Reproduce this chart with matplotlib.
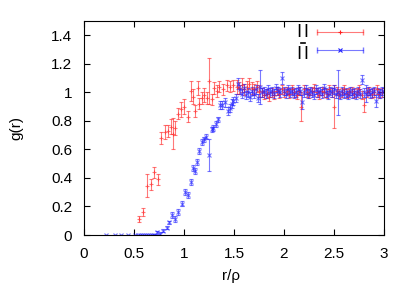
"""Pair correlation g(r) for two orientations, with error bars"""
import numpy as np
import matplotlib.pyplot as plt

"""Data read off the reference"""
red_r = [0.55, 0.59, 0.63, 0.67, 0.70, 0.74, 0.77, 0.81, 0.84, 0.87, 0.89, 0.91, 0.94, 0.97,
         1.00, 1.04, 1.07, 1.09, 1.11, 1.14, 1.15, 1.18, 1.20, 1.23, 1.25, 1.28, 1.30, 1.33,
         1.35, 1.39, 1.43, 1.46, 1.49, 1.53,
         1.55, 1.58, 1.60, 1.63, 1.65, 1.68, 1.70, 1.73, 1.75, 1.78, 1.80, 1.83, 1.85, 1.88,
         1.90, 1.93, 1.95, 1.98, 2.00, 2.03, 2.05, 2.08, 2.10, 2.13, 2.15, 2.17, 2.20, 2.23,
         2.25, 2.28, 2.30, 2.33, 2.35, 2.38, 2.40, 2.43, 2.45, 2.48, 2.50, 2.53, 2.55, 2.58,
         2.60, 2.63, 2.65, 2.68, 2.70, 2.73, 2.75, 2.78, 2.80, 2.83, 2.85, 2.88, 2.90, 2.93,
         2.95, 2.98]
red_g = [0.11, 0.16, 0.345, 0.355, 0.44, 0.39, 0.68, 0.72, 0.73, 0.76, 0.71, 0.75, 0.85, 0.88,
         0.90, 0.83, 1.01, 0.97, 0.87, 1.03, 0.92, 0.96, 0.98, 0.96, 1.08, 0.95, 1.03, 1.01,
         1.04, 1.02, 1.05, 1.04, 1.05, 1.04,
         1.03, 1.05, 1.02, 1.04, 1.06, 1.03, 1.02, 1.04, 1.01, 1.00, 0.98, 0.99, 0.97, 1.00,
         0.98, 1.01, 0.99, 1.02, 1.00, 1.01, 0.99, 1.02, 1.00, 0.98, 1.01, 0.90, 1.02, 1.00,
         0.99, 1.01, 1.03, 1.00, 0.98, 1.01, 1.00, 0.99, 1.02, 1.00, 0.90, 1.01, 0.99, 1.00,
         1.02, 0.99, 1.00, 1.01, 0.99, 1.00, 1.02, 0.98, 0.91, 1.00, 1.01, 0.99, 1.00, 1.02,
         0.99, 1.00]
red_err = [0.02, 0.03, 0.08, 0.04, 0.04, 0.04, 0.04, 0.05, 0.04, 0.05, 0.11, 0.05, 0.04, 0.05,
           0.05, 0.04, 0.07, 0.05, 0.04, 0.05, 0.04, 0.04, 0.05, 0.04, 0.16, 0.04, 0.04, 0.04,
           0.04, 0.04, 0.04, 0.04, 0.04, 0.05,
           0.04, 0.05, 0.04, 0.04, 0.04, 0.04, 0.04, 0.04, 0.04, 0.03, 0.03, 0.03, 0.03, 0.03,
           0.03, 0.03, 0.03, 0.03, 0.03, 0.03, 0.03, 0.03, 0.03, 0.03, 0.03, 0.10, 0.03, 0.03,
           0.03, 0.03, 0.03, 0.03, 0.03, 0.03, 0.03, 0.03, 0.03, 0.03, 0.15, 0.03, 0.03, 0.03,
           0.03, 0.03, 0.03, 0.03, 0.03, 0.03, 0.03, 0.03, 0.05, 0.03, 0.03, 0.03, 0.03, 0.03,
           0.03, 0.03]

blue_r = [0.22, 0.31, 0.37, 0.44, 0.51, 0.54, 0.56, 0.58, 0.60, 0.62, 0.64, 0.66, 0.68, 0.70,
          0.73, 0.76, 0.79, 0.83, 0.85, 0.88, 0.91, 0.94, 0.98, 1.01, 1.04, 1.07, 1.09, 1.11,
          1.13, 1.15, 1.18, 1.20, 1.22, 1.25, 1.28, 1.29, 1.32, 1.34, 1.36, 1.38, 1.41, 1.44,
          1.46, 1.48, 1.49,
          1.52, 1.54, 1.56, 1.58, 1.60, 1.62, 1.64, 1.66, 1.68, 1.70, 1.72, 1.74, 1.76, 1.78,
          1.80, 1.82, 1.84, 1.86, 1.88, 1.90, 1.92, 1.94, 1.96, 1.98, 2.00, 2.02, 2.04, 2.06,
          2.08, 2.10, 2.12, 2.14, 2.16, 2.18, 2.20, 2.22, 2.24, 2.26, 2.28, 2.30, 2.32, 2.34,
          2.36, 2.38, 2.40, 2.42, 2.44, 2.46, 2.48, 2.50, 2.52, 2.54, 2.56, 2.58, 2.60, 2.62,
          2.64, 2.66, 2.68, 2.70, 2.72, 2.74, 2.76, 2.78, 2.80, 2.82, 2.84, 2.86, 2.88, 2.90,
          2.92, 2.94, 2.96, 2.98, 3.00]
blue_g = [0.0, 0.0, 0.0, 0.0, 0.0, 0.0, 0.0, 0.0, 0.0, 0.0, 0.0, 0.0, 0.0, 0.0,
          0.02, 0.01, 0.03, 0.05, 0.09, 0.14, 0.11, 0.16, 0.22, 0.30, 0.28, 0.37, 0.47, 0.45,
          0.51, 0.59, 0.65, 0.67, 0.69, 0.56, 0.74, 0.75, 0.78, 0.81, 0.91, 0.91, 0.93, 0.87,
          0.89, 0.92, 0.94,
          0.96, 1.06, 1.02, 0.99, 1.03, 0.98, 1.00, 0.97, 1.01, 0.99, 1.02, 0.96, 1.04, 1.00,
          1.01, 0.99, 1.02, 1.00, 1.01, 0.99, 1.03, 1.01, 1.00, 1.10, 1.01, 0.99, 1.02, 1.00,
          1.01, 0.99, 1.00, 1.02, 1.01, 0.93, 1.00, 1.02, 0.99, 1.01, 1.00, 0.98, 1.02, 1.00,
          1.01, 0.99, 1.03, 1.00, 0.98, 1.01, 1.00, 1.02, 0.99, 1.00, 0.98, 1.01, 0.99, 1.00,
          0.98, 1.01, 0.99, 1.00, 0.98, 1.01, 0.99, 1.09, 1.00, 0.99, 1.01, 0.99, 1.00, 1.01,
          0.94, 1.00, 0.99, 1.01, 1.00]
blue_err = [0.003, 0.003, 0.003, 0.003, 0.003, 0.003, 0.003, 0.003, 0.003, 0.003, 0.003, 0.003,
            0.003, 0.005,
            0.01, 0.01, 0.01, 0.01, 0.01, 0.02, 0.02, 0.02, 0.02, 0.02, 0.02, 0.02, 0.02, 0.02,
            0.02, 0.02, 0.02, 0.02, 0.02, 0.11, 0.02, 0.02, 0.02, 0.02, 0.03, 0.03, 0.03, 0.03,
            0.03, 0.03, 0.03,
            0.03, 0.04, 0.03, 0.03, 0.03, 0.03, 0.03, 0.03, 0.03, 0.03, 0.03, 0.03, 0.12, 0.03,
            0.03, 0.03, 0.03, 0.03, 0.03, 0.03, 0.03, 0.03, 0.03, 0.04, 0.03, 0.03, 0.03, 0.03,
            0.03, 0.03, 0.03, 0.03, 0.03, 0.05, 0.03, 0.03, 0.03, 0.03, 0.03, 0.03, 0.03, 0.03,
            0.03, 0.03, 0.03, 0.03, 0.03, 0.03, 0.03, 0.03, 0.03, 0.16, 0.03, 0.03, 0.03, 0.03,
            0.03, 0.03, 0.03, 0.03, 0.03, 0.03, 0.03, 0.03, 0.03, 0.06, 0.03, 0.03, 0.03, 0.03,
            0.04, 0.03, 0.03, 0.03, 0.03]

x_ticks = [0, 0.5, 1, 1.5, 2, 2.5, 3]
x_tick_labels = ["0", "0.5", "1", "1.5", "2", "2.5", "3"]
y_ticks = [0, 0.2, 0.4, 0.6, 0.8, 1.0, 1.2, 1.4]
y_tick_labels = ["0", "0.2", "0.4", "0.6", "0.8", "1", "1.2", "1.4"]

plt.rcParams['font.family'] = ['Liberation Sans', 'DejaVu Sans']

fig = plt.figure(figsize=(4.15, 2.91), dpi=100)
ax = fig.add_axes([0.2024, 0.1924, 0.7229, 0.7354])

ax.errorbar(red_r, red_g, yerr=red_err, fmt='+', color='#ff2020', ms=3, mew=0.8,
            elinewidth=0.8, capsize=1.5, alpha=0.6)
ax.errorbar(blue_r, blue_g, yerr=blue_err, fmt='x', color='#2020ff', ms=2.5, mew=0.8,
            elinewidth=0.8, capsize=1.5, alpha=0.6)

"""gnuplot-like key drawn by hand"""
for yk, col, mk in [(0.948, '#ff2020', '+'), (0.864, '#2020ff', 'x')]:
    ax.plot([0.777, 0.93], [yk, yk], color=col, lw=0.8, alpha=0.6, transform=ax.transAxes)
    ax.plot([0.777, 0.93], [yk, yk], ls='none', marker='|', ms=4, color=col, alpha=0.6,
            transform=ax.transAxes)
    ax.plot([0.853], [yk], ls='none', marker=mk, ms=3, mew=0.8, color=col,
            transform=ax.transAxes)
ax.text(0.730, 0.949, "I\u200aI", transform=ax.transAxes, ha='center', va='center',
        fontsize=12.5, family='DejaVu Sans')
ax.text(0.730, 0.848, "I\u200aI", transform=ax.transAxes, ha='center', va='center',
        fontsize=12.5, family='DejaVu Sans')
ax.plot([0.724, 0.737], [0.898, 0.898], color='black', lw=1.2, transform=ax.transAxes)

ax.set_xlim(0, 3)
ax.set_ylim(0, 1.5)
ax.set_xticks(x_ticks)
ax.set_xticklabels(x_tick_labels)
ax.set_yticks(y_ticks)
ax.set_yticklabels(y_tick_labels)
ax.tick_params(direction='in', length=4, width=0.8, top=True, right=True,
               labelsize=11, pad=8.5)
ax.set_xlabel("r/ρ", fontsize=11)
ax.set_ylabel("g(r)", fontsize=11)
ax.xaxis.set_label_coords(0.49, -0.16)
ax.yaxis.set_label_coords(-0.225, 0.5)
ax.yaxis.label.set_va('center')

plt.savefig("out.png", dpi=100)
